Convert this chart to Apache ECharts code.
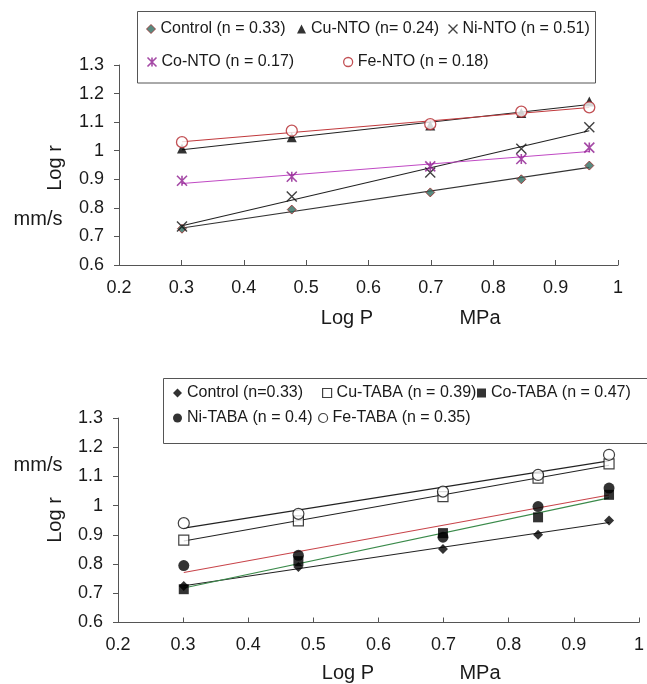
<!DOCTYPE html>
<html><head><meta charset="utf-8">
<script src="https://cdn.jsdelivr.net/npm/echarts@6/dist/echarts.min.js"></script>
<style>html,body{margin:0;padding:0;background:#fff}#c{width:647px;height:684px}</style>
</head><body><div id="c"></div>
<script>
// Log P (MPa) pressures
const logP = [0.301, 0.477, 0.699, 0.845, 0.954];
const xTicks = ['0.2','0.3','0.4','0.5','0.6','0.7','0.8','0.9','1'];
const yTicks = ['0.6','0.7','0.8','0.9','1','1.1','1.2','1.3'];

// Top chart: NTO salts (Log r)
const ntoNames = ['Control (n = 0.33)', 'Cu-NTO (n= 0.24)', 'Ni-NTO (n = 0.51)', 'Co-NTO (n = 0.17)', 'Fe-NTO (n = 0.18)'];
const ntoControl = [0.727, 0.794, 0.854, 0.900, 0.948];
const ntoCu      = [1.008, 1.047, 1.088, 1.132, 1.172];
const ntoNi      = [0.735, 0.840, 0.924, 1.007, 1.082];
const ntoCo      = [0.895, 0.909, 0.945, 0.971, 1.011];
const ntoFe      = [1.030, 1.070, 1.093, 1.137, 1.152];

// Bottom chart: TABA salts (Log r)
const tabaNames = ['Control (n=0.33)', 'Cu-TABA (n = 0.39)', 'Co-TABA (n = 0.47)', 'Ni-TABA (n = 0.4)', 'Fe-TABA (n = 0.35)'];
const tabaControl = [0.725, 0.790, 0.852, 0.900, 0.949];
const tabaCu      = [0.882, 0.948, 1.031, 1.094, 1.143];
const tabaCo      = [0.714, 0.810, 0.906, 0.960, 1.037];
const tabaNi      = [0.795, 0.830, 0.892, 0.997, 1.060];
const tabaFe      = [0.940, 0.972, 1.048, 1.105, 1.174];

const FONT = 'Liberation Sans, Arial, sans-serif';
const TXT = '#1a1a1a';
const XPATH = 'path://M0,0L10,10M0,10L10,0';
const STARPATH = 'path://M0,0L10,10M0,10L10,0M5,0L5,10';

function pts(ys){ return logP.map((x,i)=>[x, ys[i]]); }
function fit(ys){
  const n = logP.length;
  const mx = logP.reduce((a,b)=>a+b,0)/n, my = ys.reduce((a,b)=>a+b,0)/n;
  let sxy=0, sxx=0;
  for(let i=0;i<n;i++){ sxy+=(logP[i]-mx)*(ys[i]-my); sxx+=(logP[i]-mx)**2; }
  const b = sxy/sxx, a = my - b*mx;
  const x0 = logP[0], x1 = logP[n-1];
  return [[x0, a+b*x0],[x1, a+b*x1]];
}

const topSets = [
  {name: ntoNames[0], ys: ntoControl, symbol:'diamond', size:9, item:{color:'#2f6d60', borderColor:'#9a2a2a', borderWidth:1}, line:'#333'},
  {name: ntoNames[1], ys: ntoCu, symbol:'triangle', size:10, item:{color:'#000'}, line:'#222'},
  {name: ntoNames[2], ys: ntoNi, symbol:XPATH, size:10, item:{color:'none', borderColor:'#111', borderWidth:1.4}, line:'#222'},
  {name: ntoNames[3], ys: ntoCo, symbol:STARPATH, size:10, item:{color:'none', borderColor:'#8e1d90', borderWidth:1.6}, line:'#c04ac4'},
  {name: ntoNames[4], ys: ntoFe, symbol:'circle', size:11, item:{color:'#fff', borderColor:'#b3262a', borderWidth:1.3}, line:'#c0393c'}
];
const botSets = [
  {name: tabaNames[0], ys: tabaControl, symbol:'diamond', size:10, item:{color:'#000'}, line:'#222'},
  {name: tabaNames[1], ys: tabaCu, symbol:'rect', size:10, item:{color:'#fff', borderColor:'#111', borderWidth:1.2}, line:'#222'},
  {name: tabaNames[2], ys: tabaCo, symbol:'rect', size:10, item:{color:'#000'}, line:'#3a8a4a'},
  {name: tabaNames[3], ys: tabaNi, symbol:'circle', size:11, item:{color:'#000'}, line:'#c8444a'},
  {name: tabaNames[4], ys: tabaFe, symbol:'circle', size:11, item:{color:'#fff', borderColor:'#111', borderWidth:1.2}, line:'#222'}
];

const series = [];
function addSets(sets, gi){
  sets.forEach(s=>{
    series.push({type:'line', name:s.name+' fit', xAxisIndex:gi, yAxisIndex:gi, data:fit(s.ys), showSymbol:false, symbol:'none',
      lineStyle:{color:s.line, width:1.1}, silent:true, z:2});
  });
  sets.forEach(s=>{
    series.push({type:'scatter', name:s.name, xAxisIndex:gi, yAxisIndex:gi, data:pts(s.ys), symbol:s.symbol, symbolSize:s.size,
      itemStyle:s.item, silent:true, z:3});
  });
}
addSets(topSets, 0);
addSets(botSets, 1);

function leg(set, left, top){
  return {left:left, top:top, padding:0, itemWidth:9, itemHeight:9, itemGap:0, selectedMode:false,
    textStyle:{fontFamily:FONT, fontSize:16, color:TXT, lineHeight:18},
    data:[{name:set.name, icon:set.symbol, itemStyle:set.item}]};
}

function xAx(gi, margin){
  return {type:'value', gridIndex:gi, min:0.2, max:1, interval:0.1,
    axisLine:{lineStyle:{color:'#555', width:1}}, axisTick:{inside:true, length:5, lineStyle:{color:'#555'}},
    splitLine:{show:false},
    axisLabel:{fontFamily:FONT, fontSize:18, color:TXT, margin:margin,
      formatter:(v)=>{ const i=Math.round((v-0.2)/0.1); return xTicks[i]; }}};
}
function yAx(gi){
  return {type:'value', gridIndex:gi, min:0.6, max:1.3, interval:0.1,
    axisLine:{show:true, lineStyle:{color:'#555', width:1}}, axisTick:{show:true, inside:false, length:5, lineStyle:{color:'#555'}},
    splitLine:{show:false},
    axisLabel:{fontFamily:FONT, fontSize:18, color:TXT, margin:15,
      formatter:(v)=>{ const i=Math.round((v-0.6)/0.1); return yTicks[i]; }}};
}

function txt(t, x, y, rot){
  return {type:'text', x:x, y:y, rotation:rot||0, z:10,
    style:{text:t, fontFamily:FONT, fontSize:20, fill:TXT, align:'center', verticalAlign:'middle'}};
}

const option = {
  animation:false,
  backgroundColor:'#fff',
  grid:[
    {left:119, top:65, width:499, height:200},
    {left:118, top:418, width:521.5, height:204.5}
  ],
  xAxis:[xAx(0,14), xAx(1,14)],
  yAxis:[yAx(0), yAx(1)],
  legend:[
    leg(topSets[0], 146, 20),
    leg(topSets[1], 297, 20),
    leg(topSets[2], 446, 20),
    leg(topSets[3], 145, 53),
    leg(topSets[4], 343, 53),
    leg(botSets[0], 173, 384),
    leg(botSets[1], 322, 384),
    leg(botSets[2], 477, 384),
    leg(botSets[3], 173, 409),
    leg(botSets[4], 318, 409)
  ],
  graphic:[
    {type:'rect', z:0, shape:{x:137.5, y:11.5, width:458, height:71.5}, style:{fill:'#fff', stroke:'#555', lineWidth:1}},
    {type:'rect', z:0, shape:{x:163.5, y:378.5, width:520, height:65}, style:{fill:'#fff', stroke:'#555', lineWidth:1}},
    txt('Log P', 347, 318), txt('MPa', 480, 318),
    txt('Log r', 55, 168, Math.PI/2), txt('mm/s', 38, 219),
    txt('Log P', 348, 673), txt('MPa', 480, 673),
    txt('Log r', 55, 520, Math.PI/2), txt('mm/s', 38, 465)
  ],
  series: series
};
const chart = echarts.init(document.getElementById('c'), null, {renderer:'canvas'});
chart.setOption(option);
</script></body></html>
